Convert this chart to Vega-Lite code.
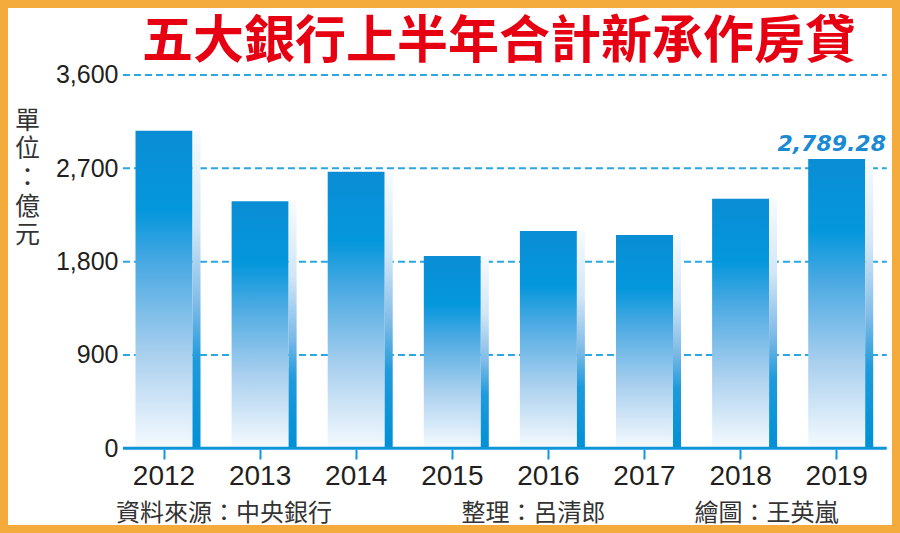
{
  "$schema": "https://vega.github.io/schema/vega-lite/v6.json",
  "width": 900,
  "height": 533,
  "autosize": {"type": "none"},
  "padding": 0,
  "background": "white",
  "view": {"fill": "white", "stroke": "#F5AA3C", "strokeWidth": 16},
  "title": {
    "text": "五大銀行上半年合計新承作房貸",
    "orient": "top",
    "anchor": "start",
    "frame": "group",
    "dx": 142,
    "offset": -109,
    "baseline": "alphabetic",
    "font": "Noto Sans CJK TC",
    "fontSize": 51,
    "fontWeight": "bold",
    "color": "#E60012"
  },
  "datasets": {
    "loans": [
      {"year": "2012", "amount": 3063},
      {"year": "2013", "amount": 2382},
      {"year": "2014", "amount": 2667},
      {"year": "2015", "amount": 1854},
      {"year": "2016", "amount": 2095},
      {"year": "2017", "amount": 2057},
      {"year": "2018", "amount": 2407},
      {"year": "2019", "amount": 2789.28}
    ],
    "grid": [{"level": 900}, {"level": 1800}, {"level": 2700}, {"level": 3600}],
    "baseline": [{"level": 0}]
  },
  "layer": [
    {
      "data": {"name": "grid"},
      "mark": {"type": "rule", "strokeDash": [7, 4], "strokeWidth": 2, "color": "#2BA6DF", "xOffset": 7, "x2Offset": 2},
      "encoding": {
        "x": {"datum": "2012", "type": "ordinal", "bandPosition": 0,
              "scale": {"type": "band", "domain": ["2012","2013","2014","2015","2016","2017","2018","2019"], "paddingInner": 0, "paddingOuter": 0.6826, "align": 0.8838},
              "axis": {
                "orient": "bottom", "offset": -84, "domain": false, "grid": false,
                "ticks": true, "tickSize": 10, "tickWidth": 2, "tickColor": "#1296DA", "tickBand": "center",
                "labelPadding": 3, "labelFont": "Liberation Sans", "labelFontSize": 28, "labelColor": "#231F20", "labelAngle": 0,
                "title": "資料來源：中央銀行　　　　　\u2009\u2009整理：呂清郎　　　\u2002\u2009繪圖：王英嵐",
                "titleX": 115.5, "titleY": 71, "titleAlign": "left", "titleBaseline": "alphabetic",
                "titleFont": "Noto Sans CJK TC", "titleFontSize": 24, "titleFontWeight": "normal", "titleColor": "#333333"
              }},
        "x2": {"datum": "2019", "bandPosition": 1},
        "y": {"field": "level", "type": "quantitative",
              "scale": {"domain": [-817, 4323], "nice": false, "zero": false},
              "axis": {
                "orient": "left", "offset": -123, "values": [0, 900, 1800, 2700, 3600],
                "labelExpr": "format(datum.value, ',')",
                "domain": false, "ticks": false, "grid": false, "labelPadding": 5,
                "labelFont": "Liberation Sans", "labelFontSize": 25, "labelColor": "#231F20",
                "title": ["單", "位", "：", "億", "元"],
                "titleAngle": 0, "titleX": -96, "titleY": 108, "titleAlign": "center", "titleBaseline": "top",
                "titleFont": "Noto Sans CJK TC", "titleFontSize": 25, "titleLineHeight": 28.7,
                "titleFontWeight": "normal", "titleColor": "#333333"
              }}
      }
    },
    {
      "data": {"name": "loans"},
      "mark": {"type": "bar", "width": 57,
        "color": {"gradient": "linear", "x1": 0, "y1": 0, "x2": 0, "y2": 1,
          "stops": [
            {"offset": 0, "color": "#0A8DD5"},
            {"offset": 0.25, "color": "#0497DC"},
            {"offset": 0.42, "color": "#4AA9E2"},
            {"offset": 0.7, "color": "#A8CFEE"},
            {"offset": 1, "color": "#F5FAFE"}
          ]}},
      "encoding": {
        "x": {"field": "year", "type": "ordinal"},
        "y": {"field": "amount", "type": "quantitative"},
        "y2": {"datum": 0}
      }
    },
    {
      "data": {"name": "loans"},
      "mark": {"type": "bar", "width": 8, "xOffset": 32.5,
        "color": {"gradient": "linear", "x1": 0, "y1": 0, "x2": 0, "y2": 1,
          "stops": [
            {"offset": 0, "color": "#F7FBFE"},
            {"offset": 0.3, "color": "#D2E6F6"},
            {"offset": 0.55, "color": "#7DBAE7"},
            {"offset": 0.72, "color": "#1F9ADB"},
            {"offset": 1, "color": "#0090D6"}
          ]}},
      "encoding": {
        "x": {"field": "year", "type": "ordinal"},
        "y": {"field": "amount", "type": "quantitative"},
        "y2": {"datum": 0}
      }
    },
    {
      "data": {"name": "baseline"},
      "mark": {"type": "rule", "strokeWidth": 3, "color": "#0E94D8", "xOffset": 7, "x2Offset": 2},
      "encoding": {
        "x": {"datum": "2012", "type": "ordinal", "bandPosition": 0},
        "x2": {"datum": "2019", "bandPosition": 1},
        "y": {"field": "level", "type": "quantitative"}
      }
    },
    {
      "data": {"name": "loans"},
      "transform": [{"filter": "datum.year === '2019'"}],
      "mark": {"type": "text", "font": "DejaVu Sans", "fontSize": 22, "fontWeight": "bold", "fontStyle": "italic",
               "color": "#1A8AD4", "align": "center", "baseline": "alphabetic", "dx": -5, "dy": -7.6},
      "encoding": {
        "x": {"field": "year", "type": "ordinal"},
        "y": {"field": "amount", "type": "quantitative"},
        "text": {"field": "amount", "type": "quantitative", "format": ",.2f"}
      }
    }
  ]
}
